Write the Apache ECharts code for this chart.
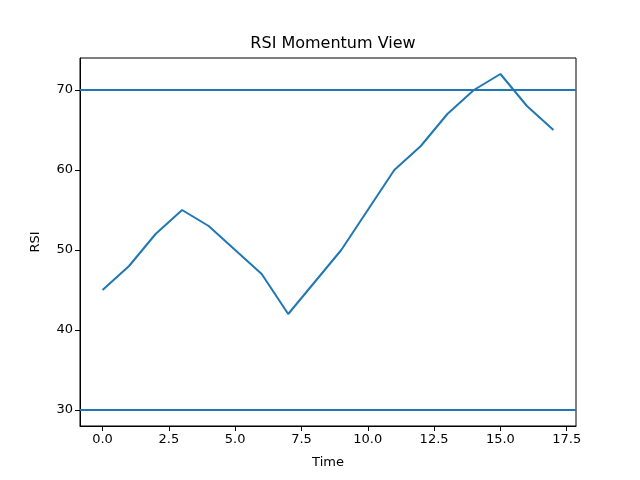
<!DOCTYPE html>
<html>
<head>
<meta charset="utf-8">
<script src="https://cdn.jsdelivr.net/npm/echarts@6/dist/echarts.min.js"></script>
<style>html,body{margin:0;padding:0;background:#fff;}#c{width:640px;height:480px;}</style>
</head>
<body>
<div id="c"></div>
<script>
var timeValues = [0,1,2,3,4,5,6,7,8,9,10,11,12,13,14,15,16,17];
var rsiValues = [45,48,52,55,53,50,47,42,46,50,55,60,63,67,70,72,68,65];
var thresholdLevels = [70,30];
var xTicks = [0,2.5,5,7.5,10,12.5,15,17.5];
var yTicks = [30,40,50,60,70];

var chart = echarts.init(document.getElementById('c'), null, {renderer:'canvas'});
var font = 'DejaVu Sans';
chart.setOption({
  animation:false,
  backgroundColor:'#ffffff',
  title:{text:'RSI Momentum View',left:328,top:31,textAlign:'center',
    textStyle:{fontFamily:font,fontSize:16,fontWeight:'normal',color:'#000'}},
  grid:{left:80,right:64,top:58,bottom:54,show:true,borderColor:'#000',borderWidth:1,backgroundColor:'transparent'},
  xAxis:{type:'value',min:-0.85,max:17.85,name:'Time',nameLocation:'middle',nameGap:30,
    nameTextStyle:{fontFamily:font,fontSize:13,color:'#000'},
    axisLine:{show:true,onZero:false,lineStyle:{color:'#000',width:1}},
    axisTick:{show:true,length:5,inside:false,customValues:xTicks,lineStyle:{color:'#000'}},
    axisLabel:{customValues:xTicks,fontFamily:font,fontSize:13,color:'#000',margin:7,
      formatter:function(v){return v.toFixed(1);}},
    splitLine:{show:false}},
  yAxis:{type:'value',min:28,max:74,name:'RSI',nameLocation:'middle',nameGap:38,nameRotate:90,
    nameTextStyle:{fontFamily:font,fontSize:13,color:'#000'},
    axisLine:{show:true,onZero:false,lineStyle:{color:'#000',width:1}},
    axisTick:{show:true,length:5,inside:false,customValues:yTicks,lineStyle:{color:'#000'}},
    axisLabel:{customValues:yTicks,fontFamily:font,fontSize:13,color:'#000',margin:7},
    splitLine:{show:false}},
  series:[{
    type:'line',
    data:timeValues.map(function(t,i){return [t,rsiValues[i]];}),
    showSymbol:false,
    lineStyle:{color:'#1f77b4',width:2},
    markLine:{silent:true,symbol:['none','none'],label:{show:false},
      lineStyle:{color:'#1f77b4',width:2,type:'solid'},
      data:thresholdLevels.map(function(v){return {yAxis:v};})}
  }]
});
</script>
</body>
</html>
